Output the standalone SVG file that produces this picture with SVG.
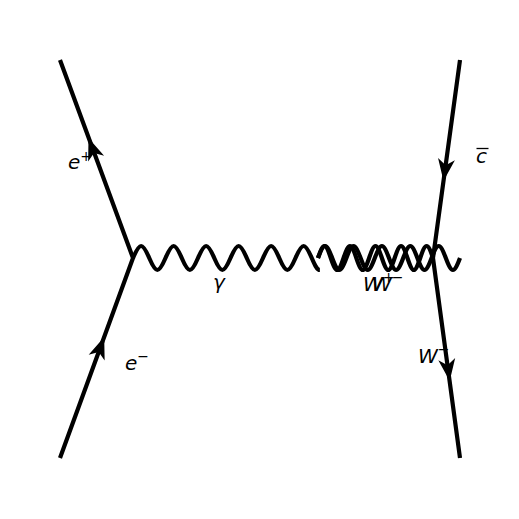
<svg xmlns="http://www.w3.org/2000/svg" xmlns:xlink="http://www.w3.org/1999/xlink" width="519" height="519" viewBox="0 0 519 519">
<style>
.ln{fill:none;stroke:#000;stroke-width:4.2;stroke-linejoin:miter;stroke-linecap:butt}
.lb{font-family:"DejaVu Sans","Liberation Sans",sans-serif;font-style:italic;font-size:20px;fill:#000}
.sup{font-size:14px}
</style>
<defs>
<path id="ah" d="M0,0 L-22,-8.5 L-16,0 L-22,8.5 Z" fill="#000"/>
</defs>
<rect width="519" height="519" fill="#fff"/>
<g id="labels">
<g id="lbl-eplus"><text class="lb" x="68" y="169">e<tspan class="sup" dy="-8">+</tspan></text></g>
<g id="lbl-eminus"><text class="lb" x="125" y="370">e<tspan class="sup" dy="-9">−</tspan></text></g>
<g id="lbl-gamma"><text class="lb" x="213" y="289">γ</text></g>
<g id="lbl-cbar"><text class="lb" x="476" y="163">c</text><line x1="476.5" y1="148.5" x2="488.5" y2="148.5" stroke="#000" stroke-width="1.3"/></g>
<g id="lbl-wplus"><text class="lb" x="363" y="291">W<tspan class="sup" dy="-9">+</tspan></text></g>
<g id="lbl-wminus"><text class="lb" x="372" y="291">W<tspan class="sup" dy="-9">−</tspan></text></g>
<g id="lbl-wminus2"><text class="lb" x="418" y="363">W<tspan class="sup" dy="-9">−</tspan></text></g>
</g>
<g id="connectors">
<path class="ln" d="M60,60 L133,258 L60,458"/>
<path class="ln" d="M460,60 L433,258 L460,458"/>
<path id="photon" class="ln" d="M133,258 c6.897,-16 9.353,-16 16.25,0 s9.353,16 16.25,0 s9.353,-16 16.25,0 s9.353,16 16.25,0 s9.353,-16 16.25,0 s9.353,16 16.25,0 s9.353,-16 16.25,0 s9.353,16 16.25,0 s9.353,-16 16.25,0 s9.353,16 16.25,0 s9.353,-16 16.25,0 c2.65,6.15 5.18,12 8.125,12"/>
<path id="w2" class="ln" d="M318,258 c5.423,-16 7.355,-16 12.778,0 s7.355,16 12.778,0 s7.355,-16 12.778,0 s7.355,16 12.778,0 s7.355,-16 12.778,0 s7.355,16 12.778,0 s7.355,-16 12.778,0 s7.355,16 12.778,0 s7.355,-16 12.778,0"/>
<path id="w1" class="ln" d="M318,258 c6.027,-16 8.173,-16 14.2,0 s8.173,16 14.2,0 s8.173,-16 14.2,0 s8.173,16 14.2,0 s8.173,-16 14.2,0 s8.173,16 14.2,0 s8.173,-16 14.2,0 s8.173,16 14.2,0 s8.173,-16 14.2,0 s8.173,16 14.2,0"/>
<use xlink:href="#ah" href="#ah" transform="translate(88.5,138) rotate(-110.24)"/>
<use xlink:href="#ah" href="#ah" transform="translate(104.2,337) rotate(-69.95)"/>
<use xlink:href="#ah" href="#ah" transform="translate(443.5,181) rotate(97.77)"/>
<use xlink:href="#ah" href="#ah" transform="translate(449.7,381) rotate(82.31)"/>
</g>
</svg>
